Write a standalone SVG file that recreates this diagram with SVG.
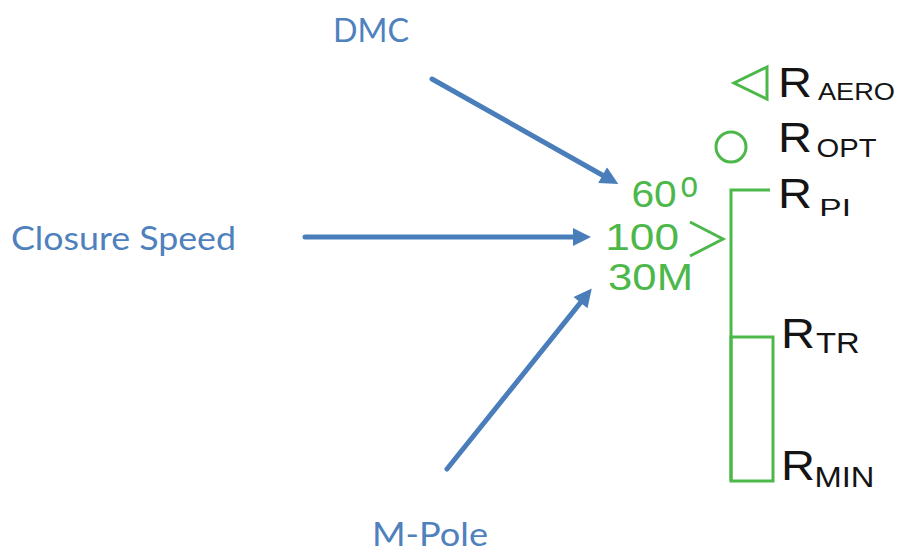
<svg xmlns="http://www.w3.org/2000/svg" width="903" height="552" viewBox="0 0 903 552">
  <style>
    .blue { font-family: Lato, "Open Sans", sans-serif; fill: #4f81bd; font-size: 33px; }
    .grn { font-family: "Liberation Sans", Arial, sans-serif; fill: #4cb84a; font-size: 37px; }
    .blk { font-family: "Liberation Sans", Arial, sans-serif; fill: #141414; }
    .gline { fill: none; stroke: #4cb84a; stroke-width: 3; }
    .arrow { fill: none; stroke: #4a7ebb; stroke-width: 5; stroke-linecap: round; }
  </style>
  <defs>
    <marker id="head" viewBox="0 0 10 10" refX="0" refY="5" markerWidth="4" markerHeight="3.6" markerUnits="strokeWidth" orient="auto">
      <path d="M0,0 L10,5 L0,10 z" fill="#4a7ebb"/>
    </marker>
  </defs>
  <rect width="903" height="552" fill="#ffffff"/>

  <g id="dmc"><text class="blue" x="333" y="42" textLength="76" lengthAdjust="spacingAndGlyphs">DMC</text></g>
  <g id="closure-speed"><text class="blue" x="11" y="250" font-size="34" textLength="225" lengthAdjust="spacingAndGlyphs">Closure Speed</text></g>
  <g id="m-pole"><text class="blue" x="372" y="546" font-size="33" textLength="116" lengthAdjust="spacingAndGlyphs">M-Pole</text></g>

  <g id="connectors">
    <path class="arrow" d="M432,79 L602.6,175.2" marker-end="url(#head)"/>
    <path class="arrow" d="M305,237 L573,237" marker-end="url(#head)"/>
    <path class="arrow" d="M447,469 L580.5,302.6" marker-end="url(#head)"/>
  </g>

  <g id="symbol-readout">
    <text class="grn" x="631.4" y="207" textLength="45.3" lengthAdjust="spacingAndGlyphs">60</text>
    <text class="grn" x="680.5" y="197" font-size="25" textLength="17.5" lengthAdjust="spacingAndGlyphs">o</text>
    <text class="grn" x="605.2" y="250" textLength="73.8" lengthAdjust="spacingAndGlyphs">100</text>
    <text class="grn" x="608.1" y="290" textLength="84.9" lengthAdjust="spacingAndGlyphs">30M</text>
    <polyline class="gline" points="690,222 723,239 690,256"/>
  </g>

  <g id="range-scale">
    <polyline class="gline" points="770,190 731,190 731,481"/>
    <rect class="gline" x="731" y="337" width="42" height="144"/>
    <polygon class="gline" points="767,67 734,83 767,99"/>
    <circle class="gline" cx="731" cy="147" r="15"/>
  </g>

  <g id="r-aero">
    <text class="blk" x="778" y="97" font-size="42" textLength="34" lengthAdjust="spacingAndGlyphs">R</text>
    <text class="blk" x="818" y="100" font-size="24" textLength="77" lengthAdjust="spacingAndGlyphs">AERO</text>
  </g>
  <g id="r-opt">
    <text class="blk" x="778" y="152" font-size="42" textLength="34" lengthAdjust="spacingAndGlyphs">R</text>
    <text class="blk" x="816.5" y="157" font-size="26" textLength="60" lengthAdjust="spacingAndGlyphs">OPT</text>
  </g>
  <g id="r-pi">
    <text class="blk" x="778" y="208" font-size="42" textLength="34" lengthAdjust="spacingAndGlyphs">R</text>
    <text class="blk" x="819.3" y="216" font-size="24" textLength="31.7" lengthAdjust="spacingAndGlyphs">PI</text>
  </g>
  <g id="r-tr">
    <text class="blk" x="781" y="348" font-size="42" textLength="34" lengthAdjust="spacingAndGlyphs">R</text>
    <text class="blk" x="816" y="353" font-size="29" textLength="43.7" lengthAdjust="spacingAndGlyphs">TR</text>
  </g>
  <g id="r-min">
    <text class="blk" x="781" y="480" font-size="42" textLength="34" lengthAdjust="spacingAndGlyphs">R</text>
    <text class="blk" x="814.5" y="487" font-size="29" textLength="60" lengthAdjust="spacingAndGlyphs">MIN</text>
  </g>
</svg>
